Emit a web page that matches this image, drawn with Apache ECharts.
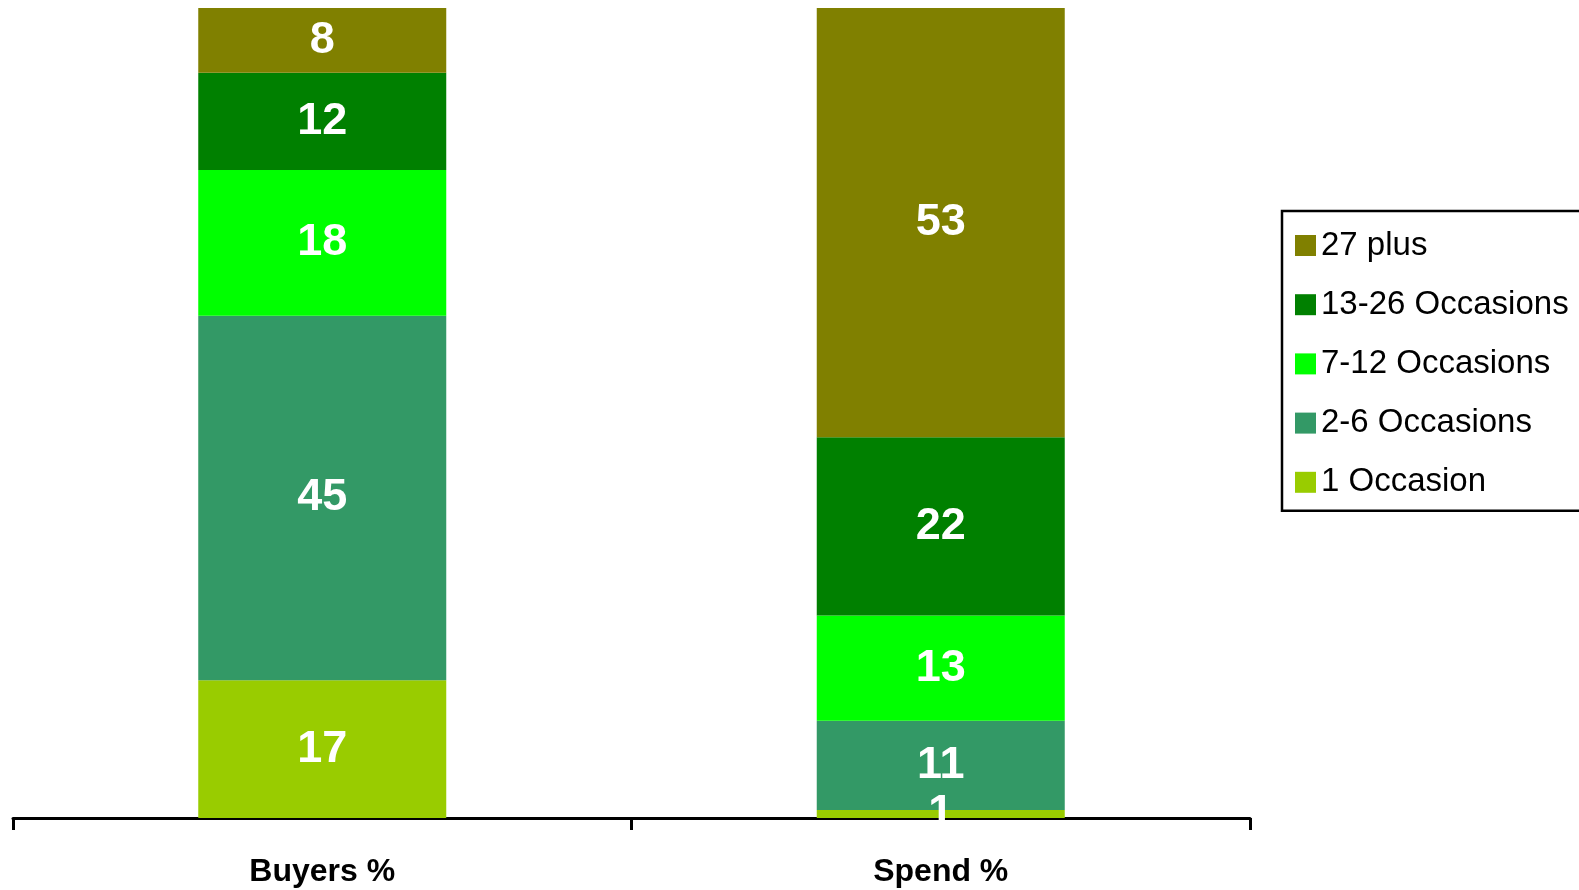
<!DOCTYPE html>
<html>
<head>
<meta charset="utf-8">
<script src="https://cdn.jsdelivr.net/npm/echarts@6/dist/echarts.min.js"></script>
<style>
  html, body { margin: 0; padding: 0; background: #ffffff; }
  #chart { width: 1579px; height: 890px; }
</style>
</head>
<body>
<div id="chart"></div>
<script>
// Purchase-frequency segments: share of buyers vs share of spend
const categories = ['Buyers %', 'Spend %'];
const segmentNames = ['1 Occasion', '2-6 Occasions', '7-12 Occasions', '13-26 Occasions', '27 plus'];
const segmentColors = ['#99CC00', '#339966', '#00FF00', '#008000', '#808000'];
const oneOccasion = [17, 1];
const twoToSix = [45, 11];
const sevenToTwelve = [18, 13];
const thirteenToTwentySix = [12, 22];
const twentySevenPlus = [8, 53];
const legendOrder = ['27 plus', '13-26 Occasions', '7-12 Occasions', '2-6 Occasions', '1 Occasion'];

const seriesValues = [oneOccasion, twoToSix, sevenToTwelve, thirteenToTwentySix, twentySevenPlus];

const sansFont = "'Liberation Sans', Arial, sans-serif";

const chart = echarts.init(document.getElementById('chart'), null, { renderer: 'canvas' });

chart.setOption({
  animation: false,
  backgroundColor: '#ffffff',
  grid: { left: 13, right: 329, top: 8, bottom: 72, containLabel: false },
  legend: {
    orient: 'vertical',
    left: 1282,
    top: 211,
    data: legendOrder,
    icon: 'rect',
    itemWidth: 21,
    itemHeight: 21,
    itemGap: 26.2,
    padding: [18, 60, 12, 13],
    borderColor: '#000000',
    borderWidth: 2.5,
    textStyle: { fontFamily: sansFont, fontSize: 33, color: '#000000', lineHeight: 31 }
  },
  xAxis: {
    type: 'category',
    data: categories,
    axisLine: { show: true, lineStyle: { color: '#000000', width: 3 } },
    axisTick: { show: true, alignWithLabel: false, length: 12, lineStyle: { color: '#000000', width: 3 } },
    axisLabel: {
      margin: 38,
      fontFamily: sansFont,
      fontWeight: 'bold',
      fontSize: 32,
      color: '#000000'
    }
  },
  yAxis: {
    type: 'value',
    min: 0,
    max: 100,
    show: false,
    splitLine: { show: false }
  },
  series: segmentNames.map((name, i) => ({
    name: name,
    type: 'bar',
    stack: 'total',
    barWidth: 248,
    data: seriesValues[i],
    itemStyle: { color: segmentColors[i] },
    label: {
      show: true,
      position: 'inside',
      color: '#ffffff',
      fontFamily: sansFont,
      fontWeight: 'bold',
      fontSize: 45
    },
    z: 3
  }))
});
</script>
</body>
</html>
